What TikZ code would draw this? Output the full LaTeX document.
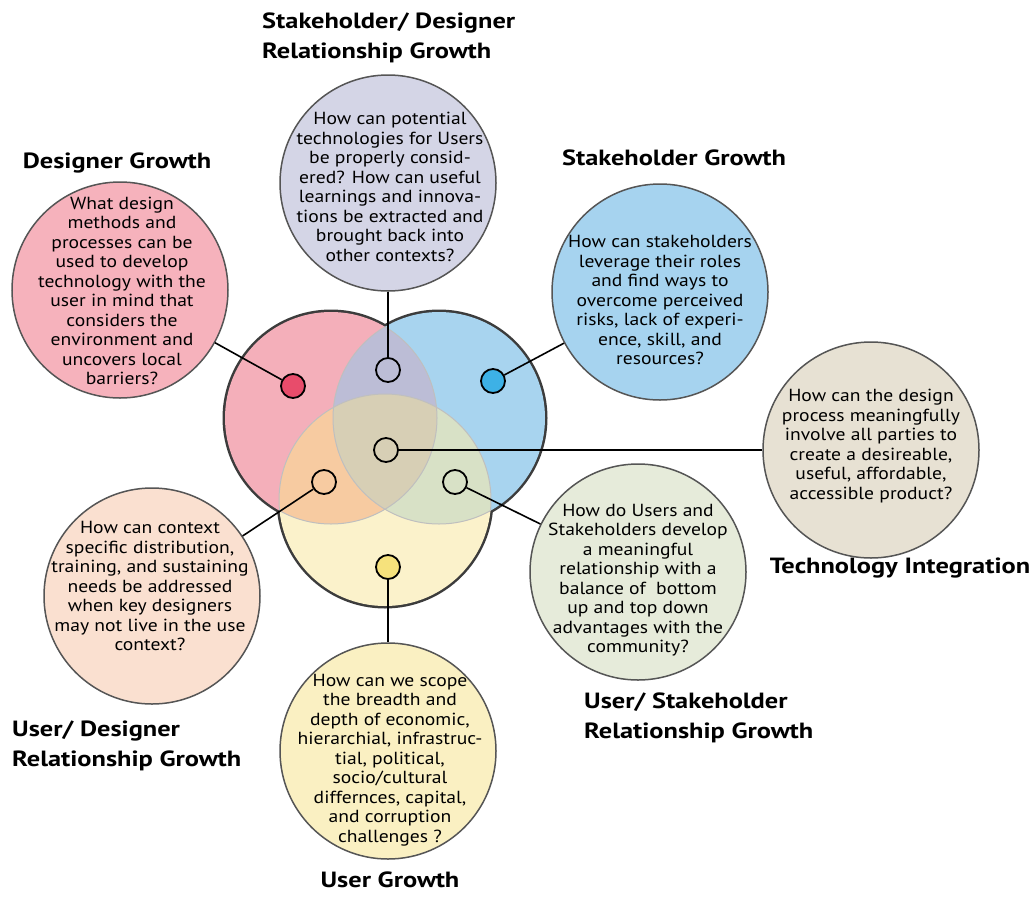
\documentclass[tikz,border=0pt]{standalone}
\usepackage{fontspec}
\setmainfont{PT Sans}[FakeStretch=1.12]
\newfontfamily\titlefont{PT Sans}[FakeStretch=1.2]
\definecolor{venngray}{HTML}{3C3C3C}
\definecolor{ringgray}{HTML}{555555}
\definecolor{pinkA}{HTML}{F4AFBA}
\definecolor{blueA}{HTML}{A8D4EF}
\definecolor{yellowA}{HTML}{FBF2CB}
\definecolor{lavA}{HTML}{BCBDD6}
\definecolor{orangeA}{HTML}{F7CBA1}
\definecolor{greenA}{HTML}{D8E1C6}
\definecolor{centerA}{HTML}{D7CFB5}
\definecolor{dgFill}{HTML}{F6B2BC}
\definecolor{sdFill}{HTML}{D4D5E6}
\definecolor{sgFill}{HTML}{A6D3EF}
\definecolor{tiFill}{HTML}{E7E1D3}
\definecolor{usFill}{HTML}{E6EBDA}
\definecolor{udFill}{HTML}{FAE0D0}
\definecolor{ugFill}{HTML}{FAF0C2}
\definecolor{dotRed}{HTML}{E84C6B}
\definecolor{dotBlue}{HTML}{3DB1E6}
\definecolor{dotYellow}{HTML}{F6E27C}
\tikzset{
  outer/.style={circle, draw=ringgray, line width=1.5pt, minimum size=216pt, inner sep=0pt},
  dotnode/.style={circle, draw=black, line width=1.8pt, minimum size=24pt, inner sep=0pt},
  link/.style={draw=black, line width=1.6pt},
  faint/.style={draw=black!25, line width=1pt},
  qtext/.style={align=center, font=\fontsize{17.5}{19.5}\selectfont, inner sep=0pt},
  title/.style={font=\titlefont\fontsize{22}{30}\selectfont\bfseries, inner sep=0pt},
}
\begin{document}
\begin{tikzpicture}[x=1pt,y=-1pt]
\useasboundingbox (0,0) rectangle (1032,897);
\fill[white] (0,0) rectangle (1032,897);
\coordinate (P) at (331,418);
\coordinate (B) at (439,418);
\coordinate (Y) at (385,500);
% Venn diagram
\draw[line width=5pt, venngray] (P) circle (106pt) (B) circle (106pt) (Y) circle (106pt);
\fill[pinkA] (P) circle (106pt);
\fill[blueA] (B) circle (106pt);
\fill[yellowA] (Y) circle (106pt);
\begin{scope}\clip (P) circle (106pt); \fill[lavA] (B) circle (106pt);\end{scope}
\begin{scope}\clip (P) circle (106pt); \fill[orangeA] (Y) circle (106pt);\end{scope}
\begin{scope}\clip (B) circle (106pt); \fill[greenA] (Y) circle (106pt);\end{scope}
\begin{scope}\clip (P) circle (106pt); \clip (B) circle (106pt); \fill[centerA] (Y) circle (106pt);\end{scope}
\begin{scope}\clip (B) circle (106pt) (Y) circle (106pt); \draw[faint] (P) circle (106pt);\end{scope}
\begin{scope}\clip (P) circle (106pt) (Y) circle (106pt); \draw[faint] (B) circle (106pt);\end{scope}
\begin{scope}\clip (P) circle (106pt) (B) circle (106pt); \draw[faint] (Y) circle (106pt);\end{scope}
% outer question circles
\node[outer, fill=dgFill] (dg) at (120,290) {};
\node[outer, fill=sdFill] (sd) at (388,183) {};
\node[outer, fill=sgFill] (sg) at (660,292) {};
\node[outer, fill=tiFill] (ti) at (871,450) {};
\node[outer, fill=usFill] (us) at (638,572) {};
\node[outer, fill=udFill] (ud) at (152,596) {};
\node[outer, fill=ugFill] (ug) at (388,751) {};
% dots
\node[dotnode, fill=dotRed] (dR) at (293,386) {};
\node[dotnode, fill=lavA] (dT) at (388,370) {};
\node[dotnode, fill=dotBlue] (dB) at (493,381) {};
\node[dotnode, fill=centerA] (dC) at (386,450) {};
\node[dotnode, fill=orangeA] (dO) at (324,482) {};
\node[dotnode, fill=greenA] (dG) at (455,482) {};
\node[dotnode, fill=dotYellow] (dY) at (388,567) {};
% connectors
\draw[link] (dR) -- (dg);
\draw[link] (dT) -- (sd);
\draw[link] (dB) -- (sg);
\draw[link] (dC) -- (ti);
\draw[link] (dO) -- (ud);
\draw[link] (dG) -- (us);
\draw[link] (dY) -- (ug);
% question texts
\node[qtext] (dgT) at (122,291) {What design\\methods and\\processes can be\\used to develop\\technology with the\\user in mind that\\considers the\\environment and\\uncovers local\\barriers?};
\node[qtext] (sdT) at (390,187) {How can potential\\technologies for Users\\be properly consid-\\ered? How can useful\\learnings and innova-\\tions be extracted and\\brought back into\\other contexts?};
\node[qtext] (sgT) at (660,300) {How can stakeholders\\leverage their roles\\and find ways to\\overcome perceived\\risks, lack of experi-\\ence, skill, and\\resources?};
\node[qtext] (tiT) at (871,446) {How can the design\\process meaningfully\\involve all parties to\\create a desireable,\\useful, affordable,\\accessible product?};
\node[qtext] (usT) at (638,580) {How do Users and\\Stakeholders develop\\a meaningful\\relationship with a\\balance of~ bottom\\up and top down\\advantages with the\\community?};
\node[qtext] (udT) at (150,586) {How can context\\specific distribution,\\training, and sustaining\\needs be addressed\\when key designers\\may not live in the use\\context?};
\node[qtext] (ugT) at (390,760) {How can we scope\\the breadth and\\depth of economic,\\hierarchial, infrastruc-\\tial, political,\\socio/cultural\\differnces, capital,\\and corruption\\challenges ?};
% titles
\node[title] (dgL) at (117,163) {Designer Growth};
\node[title, align=left, anchor=west] (sdL) at (262,38) {Stakeholder/ Designer\\Relationship Growth};
\node[title] (sgL) at (674,158) {Stakeholder Growth};
\node[title] (tiL) at (900,568) {Technology Integration};
\node[title, align=left, anchor=west] (usL) at (584,718) {User/ Stakeholder\\Relationship Growth};
\node[title, align=left, anchor=west] (udL) at (12,746) {User/ Designer\\Relationship Growth};
\node[title] (ugL) at (390,880) {User Growth};
\end{tikzpicture}
\end{document}
